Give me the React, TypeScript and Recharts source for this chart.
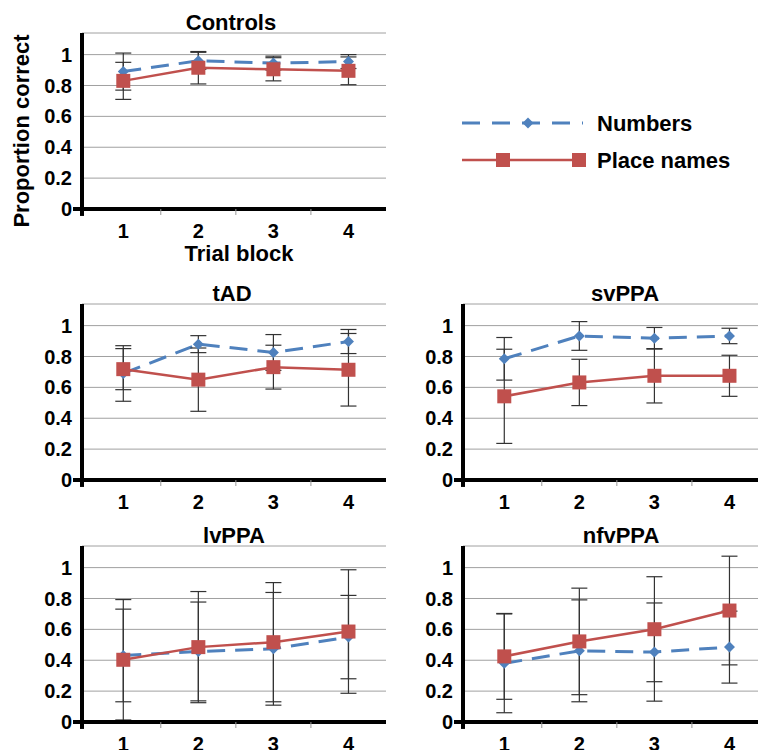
import { LineChart, Line, XAxis, YAxis, CartesianGrid, ErrorBar, ReferenceLine } from "recharts"

const blocks = [1, 2, 3, 4]
const yTicks = [0, 0.2, 0.4, 0.6, 0.8, 1]

const controlsNumbers = [0.89, 0.96, 0.945, 0.955]
const controlsNumbersErr = [0.12, 0.055, 0.045, 0.045]
const controlsPlace = [0.83, 0.915, 0.905, 0.895]
const controlsPlaceErr = [0.12, 0.105, 0.075, 0.09]

const tadNumbers = [0.69, 0.88, 0.826, 0.897]
const tadNumbersErr = [0.18, 0.055, 0.116, 0.078]
const tadPlace = [0.718, 0.65, 0.731, 0.714]
const tadPlaceErr = [0.133, 0.205, 0.142, 0.235]

const svNumbers = [0.785, 0.933, 0.918, 0.933]
const svNumbersErr = [0.138, 0.093, 0.07, 0.05]
const svPlace = [0.542, 0.632, 0.675, 0.675]
const svPlaceErr = [0.305, 0.15, 0.176, 0.133]

const lvNumbers = [0.431, 0.457, 0.474, 0.55]
const lvNumbersErr = [0.3, 0.32, 0.365, 0.27]
const lvPlace = [0.403, 0.485, 0.517, 0.586]
const lvPlaceErr = [0.39, 0.36, 0.386, 0.4]

const nfvNumbers = [0.38, 0.461, 0.453, 0.485]
const nfvNumbersErr = [0.32, 0.33, 0.318, 0.233]
const nfvPlace = [0.425, 0.522, 0.601, 0.722]
const nfvPlaceErr = [0.278, 0.345, 0.34, 0.352]

const BLUE = "#4F81BD"
const RED = "#C0504D"
const FONT = "'Liberation Sans', Arial, sans-serif"

function rows(numbers: number[], numbersErr: number[], place: number[], placeErr: number[]) {
  return blocks.map((b, i) => ({
    block: b,
    numbers: numbers[i],
    numbersErr: numbersErr[i],
    place: place[i],
    placeErr: placeErr[i],
  }))
}

function Diamond(props: any) {
  const { cx, cy } = props
  if (cx == null || cy == null) return null
  const r = 5.5
  return <path d={`M${cx},${cy - r}L${cx + r},${cy}L${cx},${cy + r}L${cx - r},${cy}Z`} fill={BLUE} />
}

function Square(props: any) {
  const { cx, cy } = props
  if (cx == null || cy == null) return null
  return <rect x={cx - 7} y={cy - 7} width={14} height={14} fill={RED} />
}

function XTick(props: any) {
  const { x, y, payload } = props
  return (
    <g>
      {payload.value < 4 && <line x1={x + 37.5} x2={x + 37.5} y1={y} y2={y + 6} stroke="#999" />}
      <text x={x} y={y + 29} textAnchor="middle" fill="#000" fontSize={20} fontWeight="bold" fontFamily={FONT}>
        {payload.value}
      </text>
    </g>
  )
}

function Panel({ title, data, left, top, titleX }: any) {
  return (
    <div style={{ position: "absolute", left, top, width: 390, height: 226 }}>
      <LineChart width={390} height={226} data={data} margin={{ top: 10, right: 4, bottom: 0, left: 10 }}>
        <CartesianGrid vertical={false} stroke="#A0A0A0" />
        <XAxis
          type="number"
          dataKey="block"
          domain={[0.45, 4.5]}
          ticks={blocks}
          allowDataOverflow
          height={40}
          tickSize={0}
          tickMargin={0}
          tickLine={false}
          axisLine={{ stroke: "#000", strokeWidth: 4 }}
          tick={<XTick />}
        />
        <YAxis
          domain={[0, 1.14]}
          ticks={yTicks}
          allowDataOverflow
          width={72}
          tickSize={0}
          tickMargin={10}
          tickLine={false}
          axisLine={{ stroke: "#000", strokeWidth: 4 }}
          tick={{ fill: "#000", fontSize: 20, fontWeight: "bold", fontFamily: FONT }}
        />
        <ReferenceLine segment={[{ x: 0.33, y: 0 }, { x: 0.45, y: 0 }]} stroke="#000" strokeWidth={4} ifOverflow="visible" />
        <ReferenceLine segment={[{ x: 0.45, y: 0 }, { x: 0.45, y: -0.045 }]} stroke="#000" strokeWidth={4} ifOverflow="visible" />
        <Line
          type="linear"
          dataKey="numbers"
          stroke={BLUE}
          strokeWidth={3}
          strokeDasharray="18 10"
          dot={<Diamond />}
          activeDot={false}
          isAnimationActive={false}
        >
          <ErrorBar dataKey="numbersErr" direction="y" width={8} stroke="#333" strokeWidth={1.2} />
        </Line>
        <Line
          type="linear"
          dataKey="place"
          stroke={RED}
          strokeWidth={2.5}
          dot={<Square />}
          activeDot={false}
          isAnimationActive={false}
        >
          <ErrorBar dataKey="placeErr" direction="y" width={8} stroke="#333" strokeWidth={1.2} />
        </Line>
      </LineChart>
      <div
        style={{
          position: "absolute",
          left: titleX,
          top: 0,
          transform: "translate(-50%, -50%)",
          fontSize: 22,
          fontWeight: "bold",
          lineHeight: 1,
          whiteSpace: "nowrap",
          color: "#000",
        }}
      >
        {title}
      </div>
    </div>
  )
}

function LegendBox() {
  return (
    <svg style={{ position: "absolute", left: 450, top: 100 }} width={300} height={80}>
      <line x1={12} x2={133} y1={23} y2={23} stroke={BLUE} strokeWidth={3} strokeDasharray="18 12" />
      <Diamond cx={78} cy={23} />
      <text x={147} y={23} dy="0.35em" fontSize={22} fontWeight="bold" fontFamily={FONT} fill="#000">
        Numbers
      </text>
      <line x1={12} x2={133} y1={60} y2={60} stroke={RED} strokeWidth={2.5} />
      <Square cx={53} cy={60} />
      <Square cx={129} cy={60} />
      <text x={147} y={60} dy="0.35em" fontSize={22} fontWeight="bold" fontFamily={FONT} fill="#000">
        Place names
      </text>
    </svg>
  )
}

export default function App() {
  return (
    <div
      style={{
        position: "absolute",
        left: 0,
        top: 0,
        width: 758,
        height: 750,
        overflow: "hidden",
        background: "#fff",
        fontFamily: FONT,
      }}
    >
      <Panel title="Controls" data={rows(controlsNumbers, controlsNumbersErr, controlsPlace, controlsPlaceErr)} left={0} top={23.4} titleX={231} />
      <Panel title="tAD" data={rows(tadNumbers, tadNumbersErr, tadPlace, tadPlaceErr)} left={0} top={294.1} titleX={232} />
      <Panel title="svPPA" data={rows(svNumbers, svNumbersErr, svPlace, svPlaceErr)} left={381} top={294.1} titleX={244} />
      <Panel title="lvPPA" data={rows(lvNumbers, lvNumbersErr, lvPlace, lvPlaceErr)} left={0} top={536.1} titleX={234} />
      <Panel title="nfvPPA" data={rows(nfvNumbers, nfvNumbersErr, nfvPlace, nfvPlaceErr)} left={381} top={536.1} titleX={240} />
      <LegendBox />
      <div
        style={{
          position: "absolute",
          left: 22,
          top: 131,
          transform: "translate(-50%, -50%) rotate(-90deg)",
          fontSize: 22,
          fontWeight: "bold",
          lineHeight: 1,
          whiteSpace: "nowrap",
        }}
      >
        Proportion correct
      </div>
      <div
        style={{
          position: "absolute",
          left: 239,
          top: 254,
          transform: "translate(-50%, -50%)",
          fontSize: 22,
          fontWeight: "bold",
          lineHeight: 1,
          whiteSpace: "nowrap",
        }}
      >
        Trial block
      </div>
    </div>
  )
}
